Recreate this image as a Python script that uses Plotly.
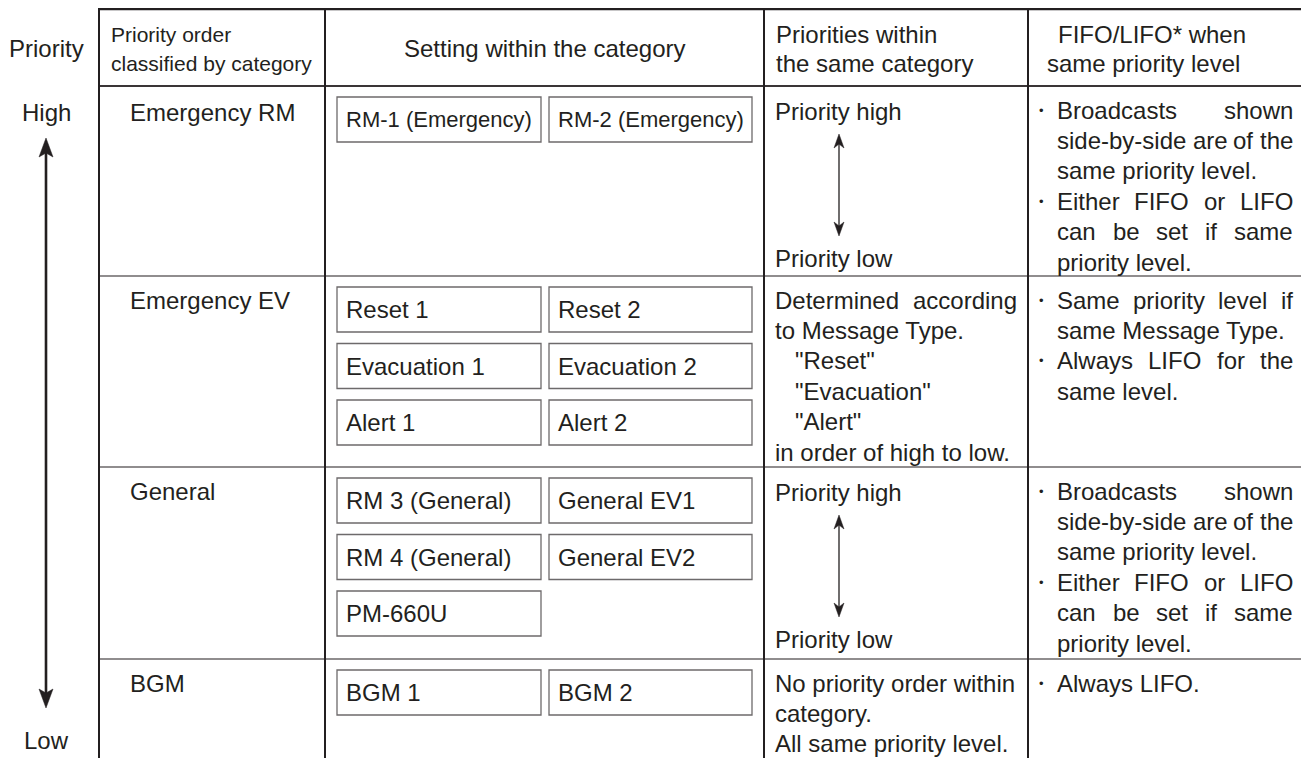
import plotly.graph_objects as go

# ---------------- data (text content) ----------------
side_title = "Priority"
side_high = "High"
side_low = "Low"

header_col2 = ["Priority order", "classified by category"]
header_col3 = ["Setting within the category"]
header_col4 = ["Priorities within", "the same category"]
header_col5 = ["FIFO/LIFO* when", "same priority level"]

categories = ["Emergency RM", "Emergency EV", "General", "BGM"]

settings_rm = [["RM-1 (Emergency)", "RM-2 (Emergency)"]]
settings_ev = [["Reset 1", "Reset 2"], ["Evacuation 1", "Evacuation 2"], ["Alert 1", "Alert 2"]]
settings_general = [["RM 3 (General)", "General EV1"], ["RM 4 (General)", "General EV2"], ["PM-660U"]]
settings_bgm = [["BGM 1", "BGM 2"]]

within_rm = ["Priority high", "Priority low"]
within_ev = ["Determined according", "to Message Type.", "\"Reset\"", "\"Evacuation\"", "\"Alert\"",
             "in order of high to low."]
within_general = ["Priority high", "Priority low"]
within_bgm = ["No priority order within", "category.", "All same priority level."]

fifo_rm = [["Broadcasts shown", "side-by-side are of the", "same priority level."],
           ["Either FIFO or LIFO", "can be set if same", "priority level."]]
fifo_ev = [["Same priority level if", "same Message Type."],
           ["Always LIFO for the", "same level."]]
fifo_general = [["Broadcasts shown", "side-by-side are of the", "same priority level."],
                ["Either FIFO or LIFO", "can be set if same", "priority level."]]
fifo_bgm = [["Always LIFO."]]

# ---------------- layout constants ----------------
W, H = 1309, 758
PAGE_MARGIN = 8  # default body margin of the html page
INK = "#231f20"
FONT = "Liberation Sans, Arial, Helvetica, sans-serif"
FS = 24
COLS = [99, 325, 764, 1028, 1306]
TOP = 9
ROWS = [86, 276, 467, 659, 758]
LINE_H = 30.4
FIRST = 24
BOX_X = [(337, 541), (549, 752)]
BOX_H = 45
BOX_PITCH = 56.5
BOX_OFF = 11

# Arial / Liberation Sans advance widths (per 1000 em)
AW = {' ': 278, '"': 355, '(': 333, ')': 333, '*': 389, '-': 333, '.': 278, '/': 278}
for c in "0123456789":
    AW[c] = 556
AW.update(dict(zip("ABCDEFGHIJKLMNOPQRSTUVWXYZ",
                   [667, 667, 722, 722, 667, 611, 778, 722, 278, 500, 667, 556, 833, 722, 778, 667, 778,
                    722, 667, 611, 722, 667, 944, 667, 667, 611])))
AW.update(dict(zip("abcdefghijklmnopqrstuvwxyz",
                   [556, 556, 500, 556, 556, 278, 556, 556, 222, 222, 500, 222, 833, 556, 556, 556, 556,
                    333, 500, 278, 556, 500, 722, 500, 500, 500])))


def tw(s, fs=FS):
    return sum(AW.get(c, 556) for c in s) * fs / 1000.0


fig = go.Figure()
shapes = []
annos = []


def text(x, y, s, anchor="left", size=FS):
    annos.append(dict(x=x, y=y, text=s, showarrow=False, xanchor=anchor, yanchor="middle",
                      font=dict(family=FONT, size=size, color=INK), borderpad=0, borderwidth=0))


def justified(x0, width, y, s, size=FS):
    words = s.split(" ")
    if len(words) == 1:
        text(x0, y, s, size=size)
        return
    total = sum(tw(w, size) for w in words)
    gap = (width - total) / (len(words) - 1)
    x = x0
    for w in words:
        text(x, y, w, size=size)
        x += tw(w, size) + gap


def line(x0, y0, x1, y1, color=INK, width=2):
    shapes.append(dict(type="line", x0=x0, y0=y0, x1=x1, y1=y1, xref="x", yref="y",
                       line=dict(color=color, width=width)))


def head(x, tip, direction, hw, hl, notch):
    # direction: -1 pointing up, +1 pointing down
    b = tip - direction * hl
    n = tip - direction * notch
    path = f"M {x},{tip} L {x - hw},{b} L {x},{n} L {x + hw},{b} Z"
    shapes.append(dict(type="path", path=path, xref="x", yref="y", fillcolor=INK,
                       line=dict(color=INK, width=0.5)))


def double_arrow(x, top, bottom, lw, hw, hl, notch):
    line(x, top + notch, x, bottom - notch, INK, lw)
    head(x, top, -1, hw, hl, notch)
    head(x, bottom, 1, hw, hl, notch)


# ---------------- table lines ----------------
line(COLS[0] - 1, TOP, COLS[-1] + 1, TOP, INK, 2.4)
line(COLS[0], ROWS[0], COLS[-1], ROWS[0], "#3a3536", 1.8)
for r in ROWS[1:4]:
    line(COLS[0], r, COLS[-1], r, "#6b6768", 1.6)
for c in COLS:
    line(c, TOP, c, H + 2, INK, 2)

# ---------------- side priority arrow ----------------
text(46, 48, side_title, "center")
text(46, 112, side_high, "center")
text(46, 740, side_low, "center")
double_arrow(46, 138, 708, 2.6, 7, 19, 15)

# ---------------- headers ----------------
text(111, 34, header_col2[0], size=21)
text(111, 63, header_col2[1], size=21)
text((COLS[1] + COLS[2]) / 2, 48, header_col3[0], "center")
text(776, 34, header_col4[0])
text(776, 63, header_col4[1])
text(1058, 34, header_col5[0])
text(1047, 63, header_col5[1])

# ---------------- rows ----------------
settings_all = [settings_rm, settings_ev, settings_general, settings_bgm]
for i, cat in enumerate(categories):
    top = ROWS[i]
    text(130, top + FIRST + (2 if i == 0 else 0), cat)
    for j, row in enumerate(settings_all[i]):
        y0 = top + BOX_OFF + j * BOX_PITCH
        for k, lab in enumerate(row):
            bx0, bx1 = BOX_X[k]
            shapes.append(dict(type="rect", x0=bx0, x1=bx1, y0=y0, y1=y0 + BOX_H, xref="x", yref="y",
                               line=dict(color="#6d6a6b", width=1.3), fillcolor="white"))
            text(bx0 + 9, y0 + BOX_H / 2, lab, size=(22 if i == 0 else FS))

# column 4
C4X = 775
C4W = 242
for i, lines in ((0, within_rm), (2, within_general)):
    top = ROWS[i]
    text(C4X, top + FIRST + 1, lines[0])
    text(C4X, top + FIRST + 5 * LINE_H - 4, lines[1])
    double_arrow(839, top + 48, top + 150, 1.3, 5, 14, 10)

top = ROWS[1]
for j, s in enumerate(within_ev):
    y = top + FIRST + j * LINE_H
    if j == 0:
        justified(C4X, C4W, y, s)
    elif s.startswith('"'):
        text(C4X + 20, y, s)
    else:
        text(C4X, y, s)

top = ROWS[3]
for j, s in enumerate(within_bgm):
    text(C4X, top + FIRST + j * LINE_H, s)

# column 5
C5B = 1041
C5X = 1057
C5W = 236
for i, paras in enumerate([fifo_rm, fifo_ev, fifo_general, fifo_bgm]):
    top = ROWS[i]
    n = 0
    for para in paras:
        for j, s in enumerate(para):
            y = top + FIRST + n * LINE_H
            if j == 0:
                annos.append(dict(x=C5B, y=y, text="•", showarrow=False, xanchor="center",
                                  yanchor="middle", font=dict(family=FONT, size=13, color=INK),
                                  borderpad=0, borderwidth=0))
            if j < len(para) - 1:
                justified(C5X, C5W, y, s)
            else:
                text(C5X, y, s)
            n += 1

# the page body has an 8px margin: shift the axes so that coordinates are window pixels
M = PAGE_MARGIN
fig.update_layout(
    width=W - M, height=H - M,
    margin=dict(l=0, r=0, t=0, b=0),
    paper_bgcolor="white", plot_bgcolor="white",
    xaxis=dict(range=[M, W], visible=False, fixedrange=True),
    yaxis=dict(range=[H, M], visible=False, fixedrange=True),
    shapes=shapes, annotations=annos, showlegend=False,
)
fig.write_html("out.html")
